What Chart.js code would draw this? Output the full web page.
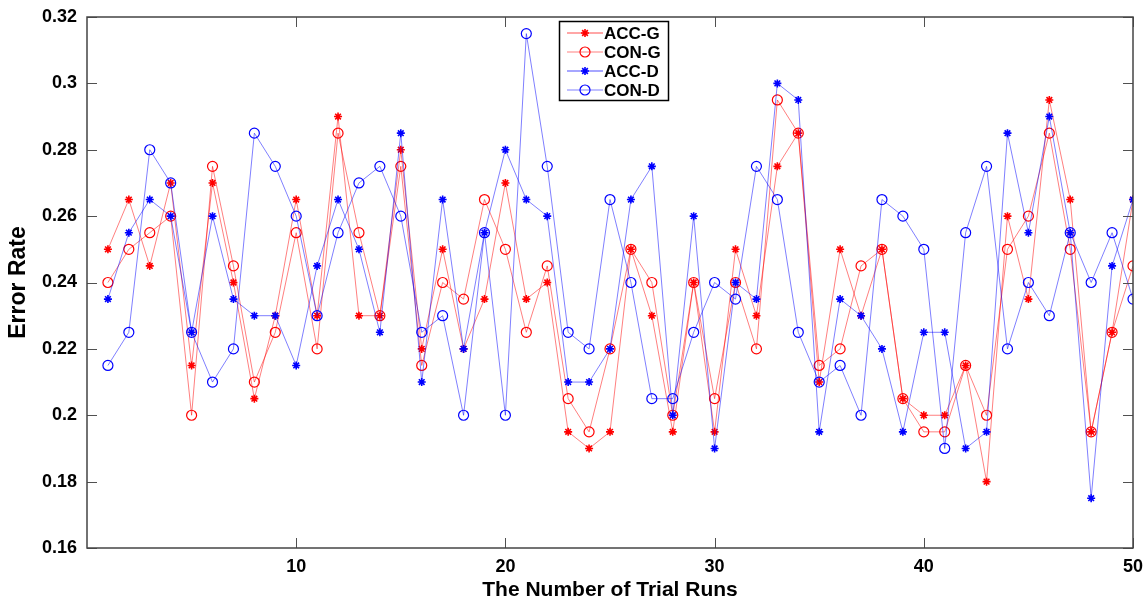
<!DOCTYPE html>
<html>
<head>
<meta charset="utf-8">
<script src="https://cdn.jsdelivr.net/npm/chart.js@4.4.1/dist/chart.umd.min.js"></script>
<style>
  html, body { margin: 0; padding: 0; background: #ffffff; }
  #c { display: block; }
</style>
</head>
<body>
<canvas id="c" width="1146" height="604"></canvas>
<script>
// ---- data ----
const runs = Array.from({length: 50}, (_, i) => i + 1);
const accG = [0.25,0.265,0.245,0.27,0.215,0.27,0.24,0.205,0.23,0.265,
              0.23,0.29,0.23,0.23,0.28,0.22,0.25,0.22,0.235,0.27,
              0.235,0.24,0.195,0.19,0.195,0.25,0.23,0.195,0.24,0.195,
              0.25,0.23,0.275,0.285,0.21,0.25,0.23,0.25,0.205,0.2,
              0.2,0.215,0.18,0.26,0.235,0.295,0.265,0.195,0.225,0.265];
const conG = [0.24,0.25,0.255,0.26,0.2,0.275,0.245,0.21,0.225,0.255,
              0.22,0.285,0.255,0.23,0.275,0.215,0.24,0.235,0.265,0.25,
              0.225,0.245,0.205,0.195,0.22,0.25,0.24,0.2,0.24,0.205,
              0.24,0.22,0.295,0.285,0.215,0.22,0.245,0.25,0.205,0.195,
              0.195,0.215,0.2,0.25,0.26,0.285,0.25,0.195,0.225,0.245];
const accD = [0.235,0.255,0.265,0.26,0.225,0.26,0.235,0.23,0.23,0.215,
              0.245,0.265,0.25,0.225,0.285,0.21,0.265,0.22,0.255,0.28,
              0.265,0.26,0.21,0.21,0.22,0.265,0.275,0.2,0.26,0.19,
              0.24,0.235,0.3,0.295,0.195,0.235,0.23,0.22,0.195,0.225,
              0.225,0.19,0.195,0.285,0.255,0.29,0.255,0.175,0.245,0.265];
const conD = [0.215,0.225,0.28,0.27,0.225,0.21,0.22,0.285,0.275,0.26,
              0.23,0.255,0.27,0.275,0.26,0.225,0.23,0.2,0.255,0.2,
              0.315,0.275,0.225,0.22,0.265,0.24,0.205,0.205,0.225,0.24,
              0.235,0.275,0.265,0.225,0.21,0.215,0.2,0.265,0.26,0.25,
              0.19,0.255,0.275,0.22,0.24,0.23,0.255,0.24,0.255,0.235];
const seriesNames = ['ACC-G', 'CON-G', 'ACC-D', 'CON-D'];
const xTicks = [10, 20, 30, 40, 50];
const yTicks = [0.16, 0.18, 0.2, 0.22, 0.24, 0.26, 0.28, 0.3, 0.32];
const xTitle = 'The Number of Trial Runs';
const yTitle = 'Error Rate';

const FONT = '"Liberation Sans", Arial, Helvetica, sans-serif';
const RED = 'rgb(255,0,0)', RED_L = 'rgba(255,0,0,0.5)';
const BLUE = 'rgb(0,0,255)', BLUE_L = 'rgba(0,0,255,0.5)';

function mk(label, data, lineC, markC, style, order) {
  const isStar = style === 'star';
  return {
    label: label,
    data: data.map((v, i) => ({x: runs[i], y: v})),
    borderColor: lineC,
    borderWidth: 1,
    backgroundColor: 'rgba(0,0,0,0)',
    pointStyle: style,
    pointRadius: isStar ? 4 : 5,
    pointBorderWidth: isStar ? 1.6 : 1.2,
    pointBorderColor: markC,
    pointBackgroundColor: isStar ? markC : 'rgba(0,0,0,0)',
    pointHoverRadius: isStar ? 4 : 5,
    tension: 0,
    fill: false,
    order: order,
    legendLineWidth: isStar ? 2.2 : 1,
    legendLineColor: isStar ? (markC === RED ? 'rgba(255,0,0,0.35)' : 'rgba(0,0,255,0.35)') : lineC
  };
}

const boxPlugin = {
  id: 'matlabBox',
  afterDraw(chart) {
    const ctx = chart.ctx;
    const a = chart.chartArea;
    const xs = chart.scales.x, ys = chart.scales.y;
    ctx.save();
    ctx.strokeStyle = '#505050';
    ctx.lineWidth = 1;
    const tl = 10;
    ctx.beginPath();
    xTicks.forEach(v => {
      const px = Math.round(xs.getPixelForValue(v)) + 0.5;
      ctx.moveTo(px, a.bottom); ctx.lineTo(px, a.bottom - tl);
      ctx.moveTo(px, a.top); ctx.lineTo(px, a.top + tl);
    });
    yTicks.forEach(v => {
      const py = Math.round(ys.getPixelForValue(v)) + 0.5;
      ctx.moveTo(a.left, py); ctx.lineTo(a.left + tl, py);
      ctx.moveTo(a.right, py); ctx.lineTo(a.right - tl, py);
    });
    ctx.stroke();
    ctx.lineWidth = 1.5;
    ctx.strokeStyle = '#444444';
    ctx.strokeRect(a.left, a.top, a.right - a.left, a.bottom - a.top);

    // legend
    const lx = 559, ly = 21, lw = 109, lh = 79;
    ctx.fillStyle = '#ffffff';
    ctx.fillRect(lx, ly, lw, lh);
    ctx.lineWidth = 1.5;
    ctx.strokeStyle = '#000000';
    ctx.strokeRect(lx + 0.5, ly + 0.5, lw, lh);
    const rows = [33, 52, 71, 90];
    chart.data.datasets.forEach((ds, i) => {
      const y = rows[i];
      ctx.strokeStyle = ds.legendLineColor;
      ctx.lineWidth = ds.legendLineWidth;
      ctx.beginPath();
      ctx.moveTo(567, y); ctx.lineTo(603, y);
      ctx.stroke();
      ctx.strokeStyle = ds.pointBorderColor;
      ctx.fillStyle = ds.pointBackgroundColor;
      ctx.lineWidth = ds.pointBorderWidth;
      Chart.helpers.drawPoint(ctx, {pointStyle: ds.pointStyle, radius: ds.pointRadius, borderWidth: ds.pointBorderWidth, rotation: 0}, 585, y);
      ctx.fillStyle = '#000000';
      ctx.font = 'bold 17px ' + FONT;
      ctx.textAlign = 'left';
      ctx.textBaseline = 'middle';
      ctx.fillText(ds.label, 604, y + 1);
    });
    ctx.restore();
  }
};

new Chart(document.getElementById('c'), {
  type: 'line',
  data: {
    datasets: [
      mk(seriesNames[0], accG, RED_L, RED, 'star', 4),
      mk(seriesNames[1], conG, RED_L, RED, 'circle', 3),
      mk(seriesNames[2], accD, BLUE_L, BLUE, 'star', 2),
      mk(seriesNames[3], conD, BLUE_L, BLUE, 'circle', 1)
    ]
  },
  options: {
    responsive: false,
    animation: false,
    devicePixelRatio: 1,
    layout: { padding: { top: 17, right: 13, left: 0, bottom: 0 } },
    plugins: { legend: { display: false }, tooltip: { enabled: false } },
    events: [],
    scales: {
      x: {
        type: 'linear',
        min: 0, max: 50,
        afterBuildTicks(scale) { scale.ticks = xTicks.map(v => ({value: v})); },
        afterFit(scale) { scale.height = 56; scale.paddingLeft = 0; scale.paddingRight = 0; },
        grid: { display: false, drawTicks: false },
        border: { display: false },
        ticks: {
          color: '#000', padding: 8, maxRotation: 0,
          font: { family: FONT, size: 18, weight: 'bold' },
          callback: v => String(v)
        },
        title: {
          display: true, text: xTitle, color: '#000',
          font: { family: FONT, size: 21, weight: 'bold', lineHeight: 1 },
          padding: { top: 0, bottom: 3 }
        }
      },
      y: {
        type: 'linear',
        min: 0.16, max: 0.32,
        afterBuildTicks(scale) { scale.ticks = yTicks.map(v => ({value: v})); },
        afterFit(scale) { scale.width = 87; scale.paddingTop = 0; scale.paddingBottom = 0; },
        grid: { display: false, drawTicks: false },
        border: { display: false },
        ticks: {
          color: '#000', padding: 10,
          font: { family: FONT, size: 18, weight: 'bold' },
          callback: v => String(Number(v.toFixed(2)))
        },
        title: {
          display: true, text: yTitle, color: '#000',
          font: { family: FONT, size: 23, weight: 'bold', lineHeight: 1 },
          padding: { top: 7, bottom: 0 }
        }
      }
    }
  },
  plugins: [boxPlugin]
});
</script>
</body>
</html>
